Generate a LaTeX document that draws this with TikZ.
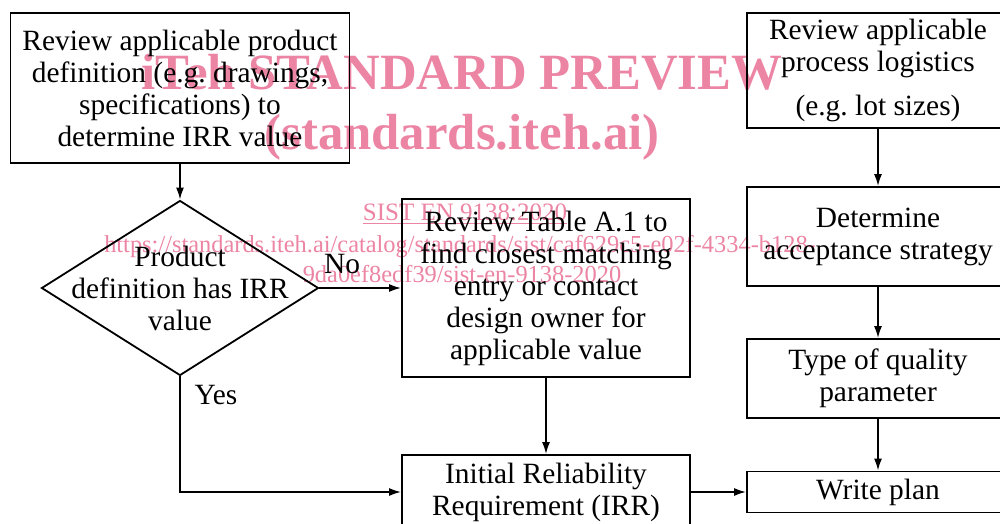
\documentclass[tikz,border=0pt]{standalone}
\usepackage{fontspec}
\setmainfont{Liberation Serif}
\usetikzlibrary{shapes.geometric,arrows.meta}

\definecolor{wmpink}{RGB}{236,132,163}

\begin{document}
\begin{tikzpicture}[x=0.5pt, y=-0.5pt, line width=0.9pt,
    box/.style={draw, rectangle, align=center, inner sep=0pt,
      font=\fontsize{14.7}{16}\selectfont},
    decision/.style={draw, diamond, inner sep=0pt,
      minimum width=138.5pt, minimum height=87.5pt},
    label/.style={font=\fontsize{14.7}{16}\selectfont},
    flow/.style={-{Latex[length=6pt, width=4pt]}}]
		\useasboundingbox (0,0) rectangle (1000,524);

		% left branch
		\node[box, minimum width=169.5pt, minimum height=75pt] (review) at (180,88)
			{Review applicable product\\definition (e.g.\ drawings,\\specifications) to\\determine IRR value};
		\node[decision] (dec) at (180,288) {};
		\node[label, align=center] (dectext) at (dec) {Product\\definition has IRR\\value};
		\node[box, minimum width=144pt, minimum height=89pt] (table) at (546,288)
			{Review Table A.1 to\\find closest matching\\entry or contact\\design owner for\\applicable value};
		\node[box, minimum width=144pt, minimum height=37pt] (irr) at (546,492)
			{Initial Reliability\\Requirement (IRR)};

		% right column
		\node[box, minimum width=131pt, minimum height=57.5pt] (logistics) at (878,70.5)
			{Review applicable\\process logistics\\[6pt](e.g.\ lot sizes)};
		\node[box, minimum width=131pt, minimum height=49.5pt] (strategy) at (878,236.5)
			{Determine\\acceptance strategy};
		\node[box, minimum width=131pt, minimum height=39.5pt] (quality) at (878,378.5)
			{Type of quality\\parameter};
		\node[box, minimum width=131pt, minimum height=20.5pt] (plan) at (878,492)
			{Write plan};

		\node[label] (no) at (342,264) {No};
		\node[label] (yes) at (216,395) {Yes};

		\draw[flow] (review) -- (dec);
		\draw[flow] (dec.east) -- (table.west);
		\draw[flow] (dec.south) |- (irr.west);
		\draw[flow] (table) -- (irr);
		\draw[flow] (irr.east) -- (plan.west);
		\draw[flow] (logistics) -- (strategy);
		\draw[flow] (strategy) -- (quality);
		\draw[flow] (quality) -- (plan);

		% stamp
		\begin{scope}[blend mode=multiply, every node/.style={text=wmpink, anchor=base, inner sep=0pt}]
			\node[font=\bfseries\fontsize{25.4}{28}\selectfont] (wmtitle) at (462,90) {iTeh STANDARD PREVIEW};
			\node[font=\bfseries\fontsize{25.4}{28}\selectfont] (wmsite) at (462,149) {(standards.iteh.ai)};
			\node[font=\fontsize{12.5}{14}\selectfont] (wmsist) at (465,220) {\underline{SIST EN 9138:2020}};
			\node[font=\fontsize{12.2}{14}\selectfont] (wmurl) at (460,252)
				{https://standards.iteh.ai/catalog/standards/sist/caf629c5-e02f-4334-b128-};
			\node[font=\fontsize{12.2}{14}\selectfont] (wmid) at (462,282) {9da0ef8edf39/sist-en-9138-2020};
		\end{scope}
	\end{tikzpicture}
\end{document}
